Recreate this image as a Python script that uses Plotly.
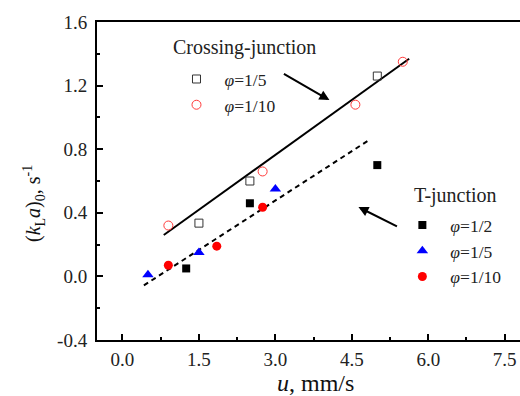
import plotly.graph_objects as go

# ---- data ----
cross_15_u = [1.5, 2.5, 5.0]
cross_15_k = [0.335, 0.60, 1.26]
cross_110_u = [0.9, 2.75, 4.57, 5.5]
cross_110_k = [0.32, 0.66, 1.08, 1.35]

t_12_u = [1.25, 2.5, 5.0]
t_12_k = [0.05, 0.46, 0.70]
t_15_u = [0.5, 1.5, 3.0]
t_15_k = [0.01, 0.15, 0.55]
t_110_u = [0.9, 1.85, 2.75]
t_110_k = [0.07, 0.19, 0.435]

# linear fits (slope, intercept) and their drawn u-extent
cross_fit = (0.2303, 0.0735)
cross_fit_u = [0.81, 5.625]
t_fit = (0.2069, -0.1435)
t_fit_u = [0.42, 4.83]

x_tickvals = [0.0, 1.5, 3.0, 4.5, 6.0, 7.5]
x_ticktext = ["0.0", "1.5", "3.0", "4.5", "6.0", "7.5"]
y_tickvals = [-0.4, 0.0, 0.4, 0.8, 1.2, 1.6]
y_ticktext = ["-0.4", "0.0", "0.4", "0.8", "1.2", "1.6"]

FONT = "Liberation Serif"

fig = go.Figure()

fig.add_trace(go.Scatter(
    x=cross_fit_u, y=[cross_fit[0] * u + cross_fit[1] for u in cross_fit_u],
    mode="lines", line=dict(color="black", width=2), showlegend=False, hoverinfo="skip"))
fig.add_trace(go.Scatter(
    x=t_fit_u, y=[t_fit[0] * u + t_fit[1] for u in t_fit_u],
    mode="lines", line=dict(color="black", width=2, dash="5px,4px"), showlegend=False, hoverinfo="skip"))

fig.add_trace(go.Scatter(
    x=cross_15_u, y=cross_15_k, mode="markers", name="<i>φ</i>=1/5", legend="legend",
    marker=dict(symbol="square-open", size=8, color="#333333", line=dict(width=1))))
fig.add_trace(go.Scatter(
    x=cross_110_u, y=cross_110_k, mode="markers", name="<i>φ</i>=1/10", legend="legend",
    marker=dict(symbol="circle-open", size=9, color="#ff3b3b", line=dict(width=1))))

fig.add_trace(go.Scatter(
    x=t_12_u, y=t_12_k, mode="markers", name="<i>φ</i>=1/2", legend="legend2",
    marker=dict(symbol="square", size=8, color="black")))
fig.add_trace(go.Scatter(
    x=t_15_u, y=t_15_k, mode="markers", name="<i>φ</i>=1/5", legend="legend2",
    marker=dict(symbol="triangle-up", size=10, color="#0000ff")))
fig.add_trace(go.Scatter(
    x=t_110_u, y=t_110_k, mode="markers", name="<i>φ</i>=1/10", legend="legend2",
    marker=dict(symbol="circle", size=9, color="#ff0000")))

axis_common = dict(
    showline=True, linecolor="black", linewidth=2, showgrid=False, zeroline=False,
    ticks="inside", ticklen=6, tickwidth=1.5, tickcolor="black",
    tickfont=dict(family=FONT, size=19, color="#222222"),
)

fig.update_xaxes(
    range=[-0.5, 7.8], tickvals=x_tickvals, ticktext=x_ticktext, mirror=True,
    minor=dict(ticks="inside", ticklen=3, tickwidth=1.5, tickcolor="black", dtick=0.75, tick0=0),
    ticklabelstandoff=1, **axis_common)
fig.update_yaxes(
    range=[-0.4, 1.6], tickvals=y_tickvals, ticktext=y_ticktext, mirror=False,
    minor=dict(ticks="inside", ticklen=3, tickwidth=1.5, tickcolor="black", dtick=0.2, tick0=0),
    ticklabelstandoff=4, **axis_common)

legend_common = dict(
    font=dict(family=FONT, size=17.5, color="#222222"), bgcolor="rgba(0,0,0,0)",
    xanchor="left", yanchor="top", itemwidth=46, tracegroupgap=0)

fig.update_layout(
    width=520, height=396,
    margin=dict(l=97, r=0, t=22, b=56, autoexpand=False),
    paper_bgcolor="white", plot_bgcolor="white",
    font=dict(family=FONT, color="#222222"),
    legend=dict(x=0.169, y=0.877, **legend_common),
    legend2=dict(x=0.703, y=0.418, **legend_common),
    annotations=[
        dict(text="Crossing-junction", xref="paper", yref="paper", x=(171 - 97) / 423, y=(340 - 48) / 318,
             xanchor="left", yanchor="middle", showarrow=False, font=dict(family=FONT, size=20, color="#222222")),
        dict(text="T-junction", xref="paper", yref="paper", x=(412 - 97) / 423, y=(340 - 195) / 318,
             xanchor="left", yanchor="middle", showarrow=False, font=dict(family=FONT, size=20, color="#222222")),
        dict(x=4.06, y=1.109, xref="x", yref="y", ax=-47, ay=-27, text="", showarrow=True,
             arrowhead=2, arrowsize=1, arrowwidth=2, arrowcolor="black"),
        dict(x=4.63, y=0.436, xref="x", yref="y", ax=40, ay=20, text="", showarrow=True,
             arrowhead=2, arrowsize=1, arrowwidth=2, arrowcolor="black"),
        dict(text="<i>u</i>, mm/s", xref="paper", yref="paper", x=(315 - 97) / 423, y=(340 - 383) / 318,
             xanchor="center", yanchor="middle", showarrow=False, font=dict(family=FONT, size=24, color="#111111")),
        dict(text="(<i>k</i><sub>L</sub><i>a</i>)<sub>0</sub>, s<sup>-1</sup>", xref="paper", yref="paper",
             x=(34 - 97) / 423, y=(340 - 204) / 318, textangle=-90,
             xanchor="center", yanchor="middle", showarrow=False, font=dict(family=FONT, size=20, color="#111111")),
    ],
)

fig.write_html("out.html", config={"displayModeBar": False},
               post_script="document.body.style.margin='0';")
